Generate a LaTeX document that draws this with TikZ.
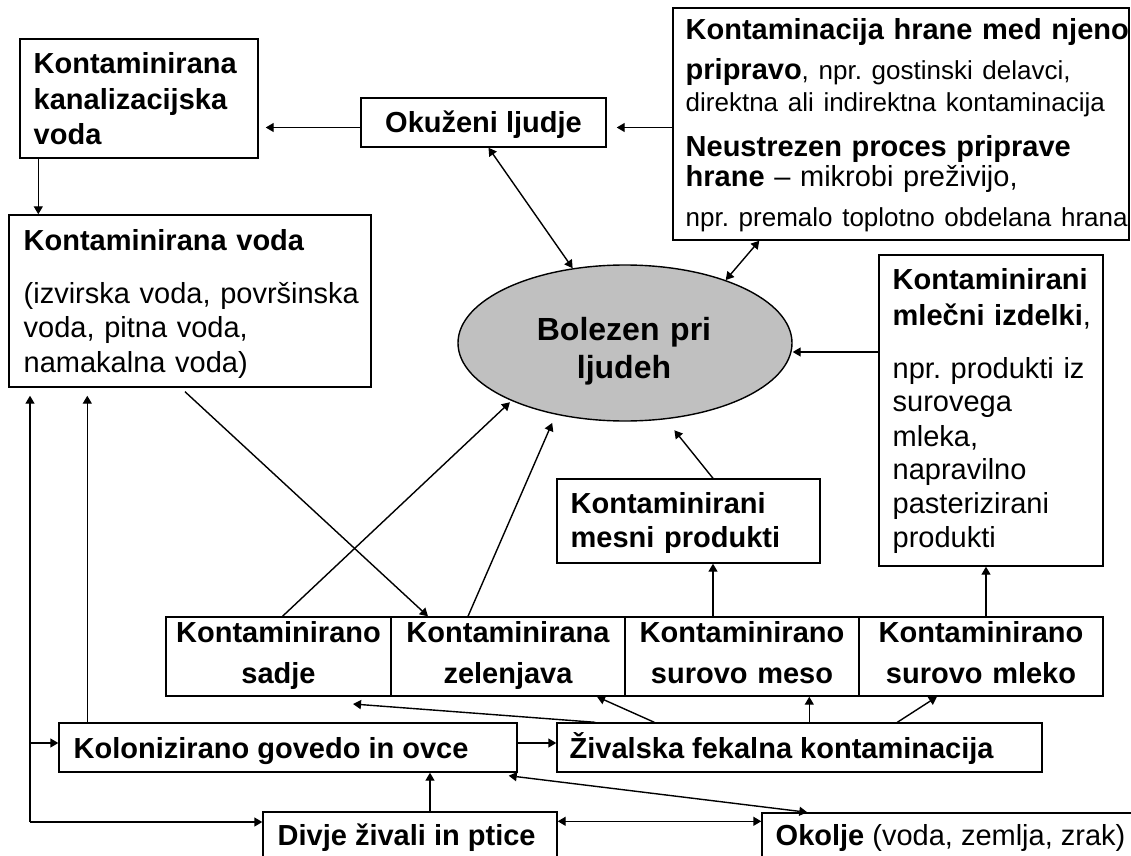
\documentclass[tikz,border=0pt]{standalone}
\usepackage{fontspec}
\setmainfont{Liberation Sans}
\usetikzlibrary{arrows.meta,shapes.geometric,fit,calc}
\definecolor{ellgray}{RGB}{192,192,192}
\newcommand{\smallfnt}{\mdseries\fontsize{13}{15}\selectfont}
\frenchspacing
\tikzset{every picture/.style={line width=0.7pt}}
\tikzset{
    box/.style={draw, inner sep=0pt},
    txt/.style={anchor=base west, inner sep=0pt, align=left, font=\fontsize{14.5}{17.5}\selectfont\bfseries},
    cell/.style={txt, anchor=base, align=center, text width=112pt, font=\fontsize{14.5}{20.5}\selectfont\bfseries},
    arr/.style={-{Triangle[length=4pt,width=4.5pt]}},
    darr/.style={{Triangle[length=4pt,width=4.5pt]}-{Triangle[length=4pt,width=4.5pt]}}
}

\begin{document}
\begin{tikzpicture}[x=0.5pt, y=-0.5pt]
    \path[use as bounding box, fill=white] (0,0) rectangle (1131,856);
    % boxes
    \node[box, fit={(20,39) (258,158)}] (kan) {};
    \node[box, fit={(361,98) (606,147)}] (okuz) {};
    \node[box, fit={(673,8) (1129,240)}] (prip) {};
    \node[box, fit={(9,215) (371,387)}] (voda) {};
    \node[ellipse, draw, fill=ellgray, minimum width=167pt, minimum height=78pt, inner sep=0pt] (bol) at (625,343) {};
    \node[box, fit={(879,255) (1103,566)}] (mlec) {};
    \node[box, fit={(557,479) (820,563)}] (mesn) {};
    \node[box, fit={(166,617) (391,696)}] (sad) {};
    \node[box, fit={(391,617) (625,696)}] (zel) {};
    \node[box, fit={(625,617) (859,696)}] (mes) {};
    \node[box, fit={(859,617) (1103,696)}] (mle) {};
    \node[box, fit={(59,723) (517,772)}] (kolo) {};
    \node[box, fit={(557,723) (1042,772)}] (ziv) {};
    \node[box, fit={(263,812) (557,880)}] (divj) {};
    \node[box, fit={(762,813) (1150,880)}] (okol) {};
    % texts
    \node[txt, text width=120pt, font=\fontsize{14.5}{17.75}\selectfont\bfseries] (kanL) at (33,74) {Kontaminirana\\kanalizacijska\\voda};
    \node[txt, anchor=base] (okuzL) at (483.5,133) {Okuženi ljudje};
    \node[txt, text width=240pt, font=\fontsize{14.5}{15}\selectfont\bfseries] (pripL) at (685,40) {Kontaminacija hrane med njeno\\[5pt]
        pripravo{\smallfnt, npr. gostinski delavci,}\\[1pt]
        {\smallfnt direktna ali indirektna kontaminacija}\\[7.5pt]
        Neustrezen proces priprave\\
        hrane {\mdseries -- mikrobi preživijo,}\\[5pt]
        {\smallfnt npr. premalo toplotno obdelana hrana}};
    \node[txt, text width=200pt, font=\fontsize{14.5}{17.25}\selectfont] (vodaL) at (23,250) {\textbf{Kontaminirana voda}\\[9.25pt]
        (izvirska voda, površinska\\voda, pitna voda,\\namakalna voda)};
    \node[txt, anchor=base, align=center, text width=120pt, font=\fontsize{16}{19}\selectfont\bfseries] (bolL) at (624,340) {Bolezen pri\\ljudeh};
    \node[txt, text width=110pt, font=\fontsize{14.5}{17}\selectfont] (mlecL) at (892,289) {\textbf{Kontaminirani}\\[1pt]
        \textbf{mlečni izdelki},\\[9.5pt]
        npr. produkti iz\\surovega\\mleka,\\napravilno\\pasterizirani\\produkti};
    \node[txt, text width=120pt, font=\fontsize{14.5}{17}\selectfont\bfseries] (mesnL) at (570,513) {Kontaminirani\\mesni produkti};
    \node[cell] (sadL) at (278.5,642) {Kontaminirano\\sadje};
    \node[cell] (zelL) at (508,642) {Kontaminirana\\zelenjava};
    \node[cell] (mesL) at (742,642) {Kontaminirano\\surovo meso};
    \node[cell] (mleL) at (981,642) {Kontaminirano\\surovo mleko};
    \node[txt] (koloL) at (73,758) {Kolonizirano govedo in ovce};
    \node[txt] (zivL) at (569,758) {Živalska fekalna kontaminacija};
    \node[txt] (divjL) at (277,845) {Divje živali in ptice};
    \node[txt] (okolL) at (775,845) {Okolje {\mdseries (voda, zemlja, zrak)}};
    % connectors
    \coordinate (okuzW) at ($(okuz.west)+(0,5)$);
    \draw[arr, shorten >=3.5pt] (okuzW) -- (okuzW -| kan.east);
    \coordinate (okuzE) at ($(okuz.east)+(0,5)$);
    \draw[arr, shorten >=5pt] (okuzE -| prip.west) -- (okuzE);
    \coordinate (kanP) at ($(kan.south west)+(19,0)$);
    \draw[arr] (kanP) -- (kanP |- voda.north);
    \draw[darr] ($(okuz.south)+(5,0)$) -- (bol.125);
    \draw[darr] ($(prip.south west)+(87,0)$) -- (bol.32);
    \draw[arr] ($(mlec.west |- bol.east)+(0,9)$) -- ($(bol.east)+(0,9)$);
    \draw[arr, shorten >=7pt] ($(mesn.north)+(24.5,0)$) -- (bol.-62);
    \draw[arr] ($(voda.south)+(-5,4)$) -- ($(zel.north)+(-80,0)$);
    \draw[arr, shorten >=1pt] ($(sad.north)+(4,0)$) -- (bol.-153);
    \draw[arr, shorten >=4.5pt] ($(zel.north)+(-40,0)$) -- (bol.-134);
    \coordinate (mesP) at ($(mes.north)+(-29,0)$);
    \draw[arr] (mesP) -- (mesP |- mesn.south);
    \coordinate (mleP) at ($(mle.north)+(5,0)$);
    \draw[arr] (mleP) -- (mleP |- mlec.south);
    \coordinate (sadP) at (353,704);
    \draw[arr] ($(ziv.north west)+(39,0)$) -- (sadP);
    \draw[arr] ($(ziv.north west)+(98,0)$) -- ($(zel.south)+(89,0)$);
    \coordinate (zivP) at ($(ziv.north west)+(253,0)$);
    \draw[arr] (zivP) -- (zivP |- mes.south);
    \draw[arr] ($(ziv.north west)+(341,0)$) -- ($(mle.south)+(-44,0)$);
    \coordinate (koloE) at ($(kolo.east)+(0,-4.5)$);
    \draw[arr] (koloE) -- (koloE -| ziv.west);
    \coordinate (koloP) at ($(kolo.north west)+(29,0)$);
    \draw[arr, shorten >=4pt] (koloP) -- (koloP |- voda.south);
    \coordinate (cL) at (30,822);
    \draw[arr, shorten >=4pt] (cL) -- (cL |- voda.south);
    \draw[arr] (cL |- koloE) -- (koloE -| kolo.west);
    \draw[arr] (cL) -- (cL -| divj.west);
    \coordinate (divjP) at ($(divj.north)+(20,0)$);
    \draw[arr] (divjP) -- (divjP |- kolo.south);
    \coordinate (divjR) at ($(divj.north east)+(0,10)$);
    \draw[darr] (divjR) -- (divjR -| okol.west);
    \draw[darr] ($(okol.north west)+(46,0)$) -- ($(kolo.south east)+(-9,3)$);
\end{tikzpicture}
\end{document}
